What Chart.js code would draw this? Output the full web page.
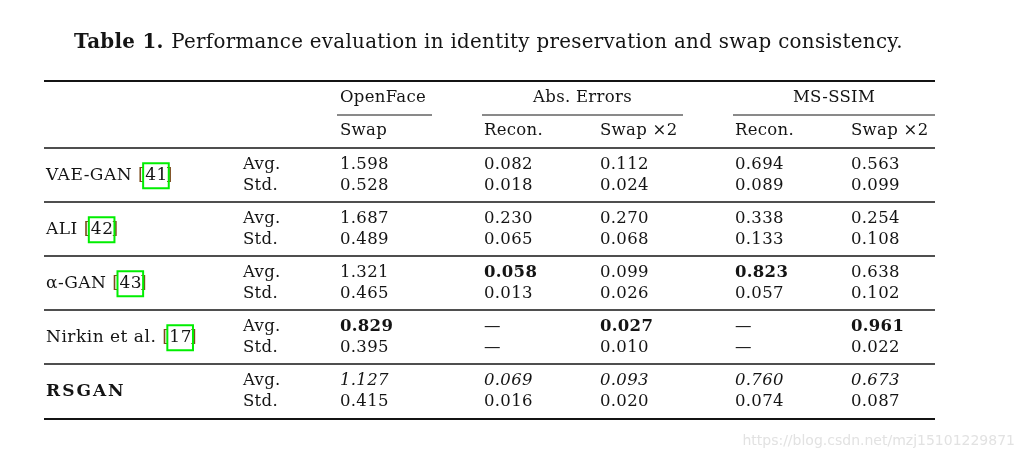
<!DOCTYPE html>
<html>
<head>
<meta charset="utf-8">
<script src="https://cdn.jsdelivr.net/npm/chart.js@4.4.0/dist/chart.umd.min.js"></script>
<style>
  html, body { margin: 0; padding: 0; background: #fff; }
  canvas { display: block; }
</style>
</head>
<body>
<canvas id="tableChart" width="1023" height="459"></canvas>
<script>
// --- datos de la tabla ---
const TITLE_BOLD = 'Table 1.';
const TITLE_TEXT = 'Performance evaluation in identity preservation and swap consistency.';

const groupHeaders = ['OpenFace', 'Abs. Errors', 'MS-SSIM'];
const subHeaders = ['Swap', 'Recon.', 'Swap \u00d72', 'Recon.', 'Swap \u00d72'];

const methods = ['VAE-GAN', 'ALI', '\u03b1-GAN', 'Nirkin et al.', 'RSGAN'];
const citations = ['41', '42', '43', '17', null];
const statLabels = ['Avg.', 'Std.'];

// una lista por columna: [Avg, Std] por método (null = —)
const openFaceSwap = [[1.598, 0.528], [1.687, 0.489], [1.321, 0.465], [0.829, 0.395], [1.127, 0.415]];
const absRecon     = [[0.082, 0.018], [0.230, 0.065], [0.058, 0.013], [null, null],   [0.069, 0.016]];
const absSwap2     = [[0.112, 0.024], [0.270, 0.068], [0.099, 0.026], [0.027, 0.010], [0.093, 0.020]];
const ssimRecon    = [[0.694, 0.089], [0.338, 0.133], [0.823, 0.057], [null, null],   [0.760, 0.074]];
const ssimSwap2    = [[0.563, 0.099], [0.254, 0.108], [0.638, 0.102], [0.961, 0.022], [0.673, 0.087]];

// mejor resultado (negrita) -> índice de método por columna
const bestRow = [3, 2, 3, 2, 3];
// fila en cursiva (segundo mejor, sólo Avg.)
const italicRow = 4;

// --- layout (coordenadas en unidades de las escalas) ---
const TABLE_LEFT = 44, TABLE_RIGHT = 935;
const COL_NAME = 46, COL_STAT = 243;
const COL_X = [340, 484, 600, 735, 851];
const GROUP_SPANS = [[337, 432], [482, 683], [733, 935]];
const Y_TITLE = 42, Y_GROUP = 98, Y_SUB = 131;
const ROW_AVG = [165, 219, 273, 327, 381];
const ROW_GAP = 20.5;
const RULES = [
    { y: 81, w: 2 }, { y: 148, w: 1.3 }, { y: 202, w: 1.3 }, { y: 256, w: 1.3 },
    { y: 310, w: 1.3 }, { y: 364, w: 1.3 }, { y: 419, w: 2 }
];
const SUB_RULE_Y = 115;

const INK = '#141414';
const SERIF = '"DejaVu Serif", serif';
const FONT_SIZE = 16.5;
const NAME_SIZE = 17;

const columns = [openFaceSwap, absRecon, absSwap2, ssimRecon, ssimSwap2];

// --- datasets: las reglas horizontales como líneas ---
const ruleDatasets = RULES.map(r => ({
    type: 'line',
    data: [{ x: TABLE_LEFT, y: r.y }, { x: TABLE_RIGHT, y: r.y }],
    borderColor: INK,
    borderWidth: r.w,
    pointRadius: 0
})).concat(GROUP_SPANS.map(s => ({
    type: 'line',
    data: [{ x: s[0], y: SUB_RULE_Y }, { x: s[1], y: SUB_RULE_Y }],
    borderColor: INK,
    borderWidth: 1,
    pointRadius: 0
})));

function fmt(v) {
    return v === null ? '\u2014' : v.toFixed(3);
}

const tablePlugin = {
    id: 'tableText',
    afterDatasetsDraw(chart) {
        const { ctx, scales: { x, y } } = chart;
        ctx.save();
        ctx.fillStyle = INK;
        ctx.textBaseline = 'middle';
        ctx.letterSpacing = '0.3px';

        // título
        ctx.font = `bold 18px ${SERIF}`;
        const boldW = ctx.measureText(TITLE_BOLD + ' ').width;
        ctx.font = `18px ${SERIF}`;
        const restW = ctx.measureText(TITLE_TEXT).width;
        const scale = (905 - 74) / (boldW + restW);
        const tSize = 18 * scale;
        ctx.textAlign = 'left';
        ctx.font = `bold ${tSize}px ${SERIF}`;
        ctx.fillText(TITLE_BOLD, x.getPixelForValue(74), y.getPixelForValue(Y_TITLE + 1));
        ctx.font = `${tSize}px ${SERIF}`;
        ctx.fillText(TITLE_TEXT, x.getPixelForValue(74) + boldW * scale, y.getPixelForValue(Y_TITLE + 1));

        // cabeceras
        ctx.font = `${FONT_SIZE}px ${SERIF}`;
        groupHeaders.forEach((h, i) => {
            const [a, b] = GROUP_SPANS[i];
            ctx.textAlign = i === 0 ? 'left' : 'center';
            const px = i === 0 ? x.getPixelForValue(COL_X[0]) : x.getPixelForValue((a + b) / 2);
            ctx.fillText(h, px, y.getPixelForValue(Y_GROUP));
        });
        ctx.textAlign = 'left';
        subHeaders.forEach((h, i) => {
            ctx.fillText(h, x.getPixelForValue(COL_X[i]), y.getPixelForValue(Y_SUB));
        });

        // filas
        methods.forEach((name, r) => {
            const yAvg = ROW_AVG[r];
            const yStd = yAvg + ROW_GAP;
            const yMid = (yAvg + yStd) / 2;

            // nombre del método + cita
            const nx = x.getPixelForValue(COL_NAME);
            const ny = y.getPixelForValue(yMid);
            ctx.fillStyle = INK;
            if (citations[r]) {
                ctx.letterSpacing = '0.5px';
                ctx.font = `${NAME_SIZE}px ${SERIF}`;
                ctx.fillText(name, nx, ny);
                const w0 = ctx.measureText(name + ' ').width;
                ctx.fillStyle = '#7a4a1c';
                ctx.fillText('[', nx + w0, ny);
                const wb = ctx.measureText('[').width;
                ctx.fillStyle = INK;
                const numX = nx + w0 + wb;
                ctx.fillText(citations[r], numX, ny);
                const wn = ctx.measureText(citations[r]).width;
                ctx.fillStyle = '#7a4a1c';
                ctx.fillText(']', numX + wn - 2, ny);
                ctx.strokeStyle = '#00ee00';
                ctx.lineWidth = 2;
                ctx.strokeRect(numX - 2, ny - 12, wn + 3, 25);
                ctx.fillStyle = INK;
            } else {
                ctx.letterSpacing = '2px';
                ctx.font = `bold ${NAME_SIZE}px ${SERIF}`;
                ctx.fillText(name, nx, ny);
            }
            ctx.letterSpacing = '0.3px';

            // Avg. / Std.
            ctx.font = `${FONT_SIZE}px ${SERIF}`;
            ctx.fillText(statLabels[0], x.getPixelForValue(COL_STAT), y.getPixelForValue(yAvg));
            ctx.fillText(statLabels[1], x.getPixelForValue(COL_STAT), y.getPixelForValue(yStd));

            // valores
            columns.forEach((col, c) => {
                const [avg, std] = col[r];
                let style = '';
                if (bestRow[c] === r) style = 'bold ';
                else if (r === italicRow) style = 'italic ';
                ctx.font = `${style}${FONT_SIZE}px ${SERIF}`;
                ctx.fillText(fmt(avg), x.getPixelForValue(COL_X[c]), y.getPixelForValue(yAvg));
                ctx.font = `${FONT_SIZE}px ${SERIF}`;
                ctx.fillText(fmt(std), x.getPixelForValue(COL_X[c]), y.getPixelForValue(yStd));
            });
        });

        // marca de agua
        ctx.letterSpacing = '0px';
        ctx.font = '14px "DejaVu Sans", sans-serif';
        ctx.fillStyle = '#e2e2e2';
        ctx.textAlign = 'right';
        ctx.fillText('https://blog.csdn.net/mzj15101229871', x.getPixelForValue(1015), y.getPixelForValue(441));
        ctx.restore();
    }
};

const chart = new Chart(document.getElementById('tableChart').getContext('2d'), {
    type: 'scatter',
    data: { datasets: ruleDatasets },
    options: {
        responsive: false,
        animation: false,
        layout: { padding: 0 },
        plugins: { legend: { display: false }, tooltip: { enabled: false } },
        scales: {
            x: { type: 'linear', display: false, min: 0, max: 1023 },
            y: { type: 'linear', display: false, min: 0, max: 459, reverse: true }
        }
    },
    plugins: [tablePlugin]
});
</script>
</body>
</html>
